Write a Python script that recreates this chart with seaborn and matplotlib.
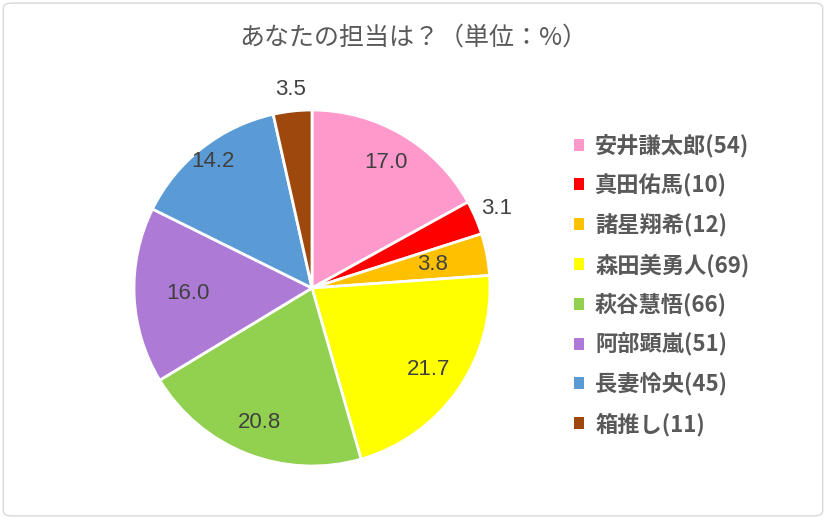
import numpy as np
import seaborn as sns
import matplotlib.pyplot as plt
from matplotlib.patches import Patch, FancyBboxPatch

names = ['安井謙太郎', '真田佑馬', '諸星翔希', '森田美勇人', '萩谷慧悟', '阿部顕嵐', '長妻怜央', '箱推し']
counts = [54, 10, 12, 69, 66, 51, 45, 11]
percents = [17.0, 3.1, 3.8, 21.7, 20.8, 16.0, 14.2, 3.5]
colors = ['#FF99CC', '#FF0000', '#FFC000', '#FFFF00', '#92D050', '#AD7BD6', '#5B9BD5', '#9E480E']

sns.set_theme(style='white')
plt.rcParams['font.family'] = ['Noto Sans CJK JP', 'DejaVu Sans']

fig = plt.figure(figsize=(8.26, 5.19), dpi=100)
ax = fig.add_axes([134 / 826, 53 / 519, 356 / 826, 356 / 519])

wedges, _ = ax.pie(percents, colors=colors, startangle=90, counterclock=False,
                   wedgeprops=dict(edgecolor='white', linewidth=2))
ax.set_xlim(-1, 1)
ax.set_ylim(-1, 1)
ax.set_aspect('equal')
ax.axis('off')

# label distance from centre, per wedge (small ones go outside)
label_r = [0.82, 1.13, 0.69, 0.80, 0.81, 0.70, 0.90, 1.12]
for w, p, r in zip(wedges, percents, label_r):
    ang = np.deg2rad((w.theta1 + w.theta2) / 2)
    ax.text(r * np.cos(ang), r * np.sin(ang), f'{p:.1f}', ha='center', va='center',
            fontsize=16, color='#404040', family=['Liberation Sans', 'DejaVu Sans'],
            clip_on=False)

handles = [Patch(facecolor=c, edgecolor='none') for c in colors]
labels = [f'{n}({c})' for n, c in zip(names, counts)]
fig.legend(handles, labels, loc='upper left', bbox_to_anchor=(554 / 826, 1 - 114 / 519),
           frameon=False, handlelength=0.45, handleheight=0.45, handletextpad=0.5,
           labelspacing=0.73, prop=dict(size=16, weight='bold'), labelcolor='#595959')

fig.text(0.5, 1 - 38 / 519, 'あなたの担当は？（単位：%）', ha='center', va='center',
         fontsize=18, color='#595959')

fig.patches.append(FancyBboxPatch((0.004, 0.006), 0.992, 0.988, boxstyle='round,pad=0,rounding_size=0.01',
                                  transform=fig.transFigure, facecolor='none',
                                  edgecolor='#D9D9D9', linewidth=1))

fig.savefig('out.png', dpi=100)
